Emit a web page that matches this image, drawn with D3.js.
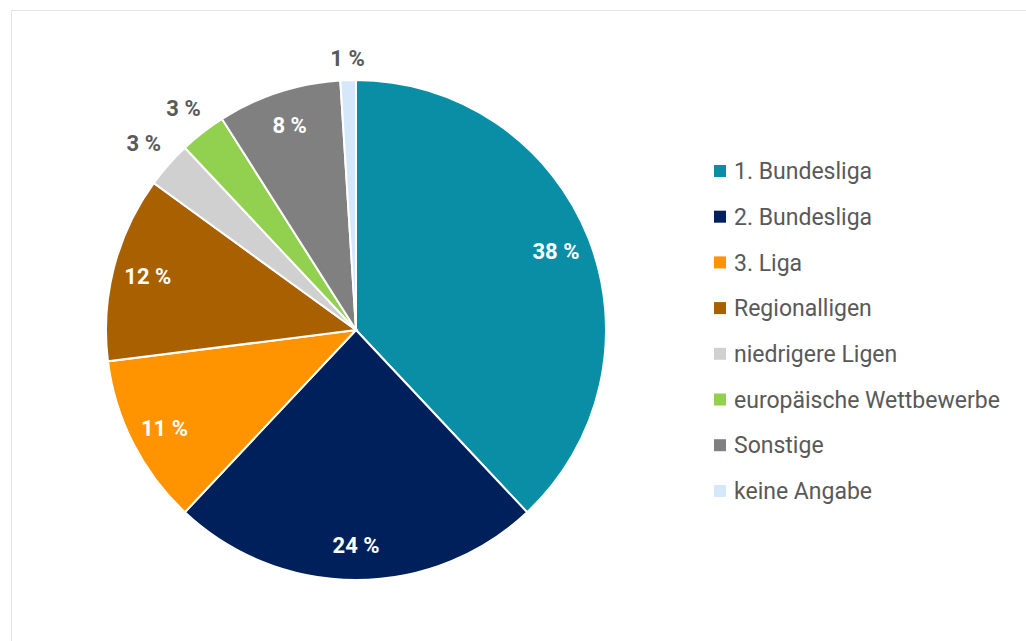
<!DOCTYPE html>
<html>
<head>
<meta charset="utf-8">
<script src="https://cdn.jsdelivr.net/npm/d3@7"></script>
<style>
  body { margin: 0; background: #fff; }
  svg { display: block; font-family: Roboto, "Noto Sans", sans-serif; }
</style>
</head>
<body>
<div id="chart"></div>
<script>
// Anteile in Prozent, Reihenfolge im Uhrzeigersinn ab 12 Uhr
const categories = ["1. Bundesliga", "2. Bundesliga", "3. Liga", "Regionalligen",
  "niedrigere Ligen", "europäische Wettbewerbe", "Sonstige", "keine Angabe"];
const shares = [38, 24, 11, 12, 3, 3, 8, 1];
const colors = ["#098ea5", "#00205b", "#ff9400", "#a86000",
  "#d0d0d0", "#92d050", "#808080", "#d4e8fa"];

const width = 1026, height = 641,
  cx = 356, cy = 330, radius = 250;

const svg = d3.select("#chart").append("svg")
  .attr("width", width)
  .attr("height", height);

// Rahmen
svg.append("rect")
  .attr("x", 11.5).attr("y", 10.5)
  .attr("width", width + 20).attr("height", height + 20)
  .attr("fill", "none")
  .attr("stroke", "#e3e3e3");

const color = d3.scaleOrdinal().domain(categories).range(colors);

const pie = d3.pie().sort(null).value(d => d.value);
const slices = pie(categories.map((c, i) => ({ key: c, value: shares[i] })));

const arc = d3.arc().innerRadius(0).outerRadius(radius);
const inner = d3.arc().innerRadius(radius * 0.86).outerRadius(radius * 0.86);

const g = svg.append("g").attr("transform", `translate(${cx},${cy})`);

g.selectAll("path")
  .data(slices)
  .enter()
  .append("path")
  .attr("d", arc)
  .attr("fill", d => color(d.data.key))
  .attr("stroke", "#fff")
  .style("stroke-width", "2px");

// Position für Beschriftungen außerhalb (kleine Anteile)
function outerPos(d) {
  const a = (d.startAngle + d.endAngle) / 2;
  const r = radius + 12 + Math.abs(Math.sin(a)) * 20 + Math.abs(Math.cos(a)) * 9;
  return [Math.sin(a) * r, -Math.cos(a) * r];
}

g.selectAll("text.lbl")
  .data(slices)
  .enter()
  .append("text")
  .attr("class", "lbl")
  .attr("transform", d => `translate(${d.data.value < 5 ? outerPos(d) : inner.centroid(d)})`)
  .attr("text-anchor", "middle")
  .attr("dy", "0.36em")
  .attr("fill", d => d.data.value < 5 ? "#595959" : "#fff")
  .style("font-size", "22px")
  .style("font-weight", "bold")
  .text(d => d.data.value + " %");

// Legende
const legend = svg.append("g").attr("transform", "translate(714,171)");
const row = legend.selectAll("g")
  .data(categories)
  .enter()
  .append("g")
  .attr("transform", (d, i) => `translate(0,${i * 45.7})`);

row.append("rect")
  .attr("x", 0).attr("y", -6)
  .attr("width", 12).attr("height", 12)
  .attr("fill", d => color(d));

row.append("text")
  .attr("x", 20)
  .attr("dy", "0.36em")
  .attr("fill", "#595959")
  .style("font-size", "23px")
  .text(d => d);
</script>
</body>
</html>
